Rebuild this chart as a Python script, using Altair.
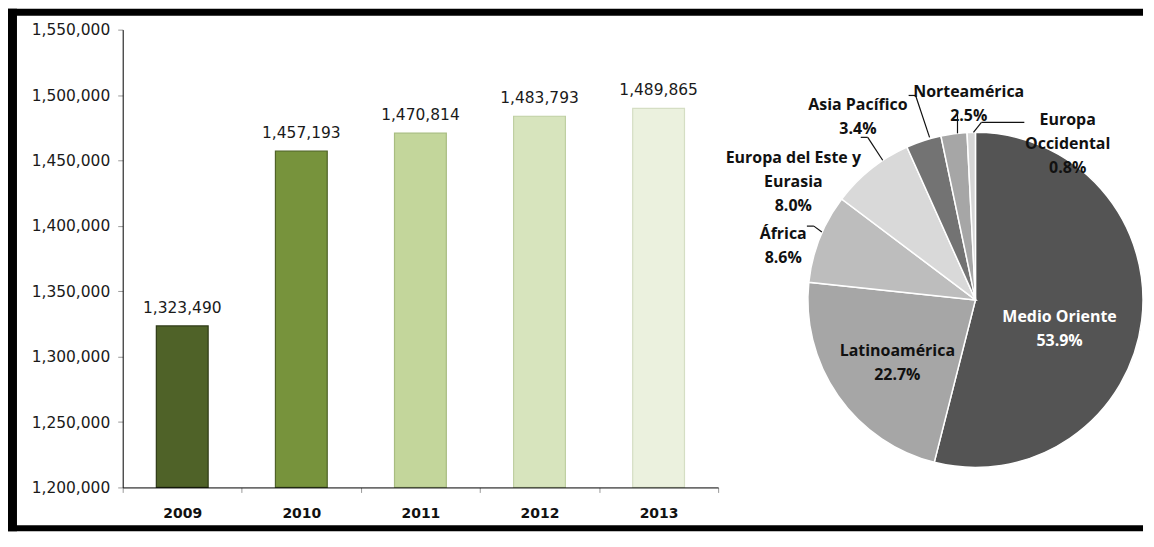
import altair as alt
import pandas as pd

# ---------------- data ----------------
years = ["2009", "2010", "2011", "2012", "2013"]
production = [1323490, 1457193, 1470814, 1483793, 1489865]
y_ticks = [1200000, 1250000, 1300000, 1350000, 1400000, 1450000, 1500000, 1550000]

regions = ["Medio Oriente", "Latinoamérica", "África", "Europa del Este y Eurasia",
           "Asia Pacífico", "Norteamérica", "Europa Occidental"]
region_lines = [["Medio Oriente"], ["Latinoamérica"], ["África"], ["Europa del Este y", "Eurasia"],
                ["Asia Pacífico"], ["Norteamérica"], ["Europa", "Occidental"]]
shares = [53.9, 22.7, 8.6, 8.0, 3.4, 2.5, 0.8]

# ---------------- styles ----------------
bar_colors = ["#4f6228", "#77933c", "#c3d69b", "#d7e4bd", "#ebf1de"]
bar_strokes = ["#2e3a16", "#4f6228", "#a8bd80", "#bfcfa2", "#d5dec4"]
slice_colors = ["#545454", "#a6a6a6", "#bdbdbd", "#d9d9d9", "#737373", "#a6a6a6", "#d6d6d6"]
FONT = "DejaVu Sans"
PIE_FONT = "Open Sans"

bar_df = pd.DataFrame({
    "year": years,
    "value": production,
    "label": [f"{v:,}" for v in production],
})

total = sum(shares)
mids = []
acc = 0.0
for s in shares:
    mids.append(acc + s / 2)
    acc += s
pie_df = pd.DataFrame({
    "region": regions,
    "share": shares,
    "order": list(range(len(regions))),
    "mid": mids,
    "label": ["\n".join(lines + [f"{s:.1f}%"]) for lines, s in zip(region_lines, shares)],
})

# ---------------- bar panel ----------------
BW, BH = 597, 459
x_enc = alt.X("year:N", sort=years,
              scale=alt.Scale(paddingInner=0, paddingOuter=0),
              axis=alt.Axis(title=None, labelAngle=0, tickBand="extent", tickSize=5,
                            tickColor="#999999", domainColor="#000000", domainWidth=1,
                            labelFont=FONT, labelFontSize=14, labelFontWeight="bold",
                            labelColor="#111111", labelPadding=14, zindex=1))
y_enc = alt.Y("value:Q",
              scale=alt.Scale(domain=[1200000, 1550000], zero=False, nice=False, clamp=True),
              axis=alt.Axis(title=None, values=y_ticks, labelExpr="format(datum.value, ',')",
                            grid=False, tickSize=5,
                            tickColor="#999999", domainColor="#000000", domainWidth=1,
                            labelFont=FONT, labelFontSize=15.5, labelColor="#1a1a1a",
                            labelPadding=8, zindex=1))

base = alt.Chart(bar_df)
bars = base.mark_bar(width=alt.RelativeBandSize(0.435), strokeWidth=1.2).encode(
    x=x_enc, y=y_enc, y2=alt.datum(1200000),
    color=alt.Color("year:N", scale=alt.Scale(domain=years, range=bar_colors), legend=None),
    stroke=alt.Stroke("year:N", scale=alt.Scale(domain=years, range=bar_strokes), legend=None),
)
bar_text = base.mark_text(baseline="middle", dy=-18, font=FONT, fontSize=15.5,
                          color="#1a1a1a").encode(x=x_enc, y=y_enc, text="label:N")

one = pd.DataFrame({"k": [0]})
def band(x1, x2, y1, y2, color="#000000"):
    return alt.Chart(one).mark_rect(color=color).encode(
        x=alt.value(x1), x2=alt.value(x2), y=alt.value(y1), y2=alt.value(y2))

frame = [
    band(-115, 1023, -21, -14),
    band(-115, -106, -21, 503),
    band(-115, 1023, 497, 503),
]

bar_panel = alt.layer(bars, bar_text, *frame).properties(width=BW, height=BH)

# ---------------- pie panel ----------------
PW, PH = 330, 459
CX, CY, R = 165, 271, 168
theta_scale = alt.Scale(domain=[0, total])

arcs = alt.Chart(pie_df).mark_arc(outerRadius=R, stroke="#ffffff", strokeWidth=1.5).encode(
    theta=alt.Theta("share:Q", stack=True, scale=theta_scale),
    order=alt.Order("order:Q"),
    color=alt.Color("region:N", scale=alt.Scale(domain=regions, range=slice_colors), legend=None),
    x=alt.value(CX), y=alt.value(CY),
)

# label layout: region -> (radius, dx, dy, color)
label_layout = {
    "Medio Oriente": (85, 0, 7, "#ffffff"),
    "Latinoamérica": (93, -2, -2, "#111111"),
    "África": (204, -3, 9, "#111111"),
    "Europa del Este y Eurasia": (232, -38, 39, "#111111"),
    "Asia Pacífico": (229, -47, 22, "#111111"),
    "Norteamérica": (208, 20, -2, "#111111"),
    "Europa Occidental": (180, 97, 0, "#111111"),
}
label_layers = []
for reg, (rad, ddx, ddy, col) in label_layout.items():
    label_layers.append(
        alt.Chart(pie_df).transform_filter(alt.datum.region == reg).mark_text(
            radius=rad, dx=ddx, dy=ddy, align="center", baseline="middle",
            lineBreak="\n", lineHeight=24, font=PIE_FONT, fontSize=16,
            fontWeight="bold", color=col,
        ).encode(
            theta=alt.Theta("mid:Q", stack=False, scale=theta_scale),
            text="label:N",
            x=alt.value(CX), y=alt.value(CY),
        )
    )

leader_df = pd.DataFrame({
    "x":  [-4, 3, 50, 57, 98, 105, 147, 214, 171],
    "y":  [197, 197, 108, 108, 66, 66, 84, 93, 93],
    "x2": [3, 11, 57, 72, 105, 119, 147, 171, 163],
    "y2": [197, 203, 108, 131, 66, 108, 104, 93, 103],
})
leaders = alt.Chart(leader_df).mark_rule(color="#111111", strokeWidth=1.2).encode(
    x=alt.X("x:Q", scale=None, axis=None), x2="x2:Q",
    y=alt.Y("y:Q", scale=None, axis=None), y2="y2:Q",
)

pie_panel = alt.layer(arcs, leaders, *label_layers).properties(width=PW, height=PH)

chart = alt.hconcat(bar_panel, pie_panel, spacing=93, bounds="flush").resolve_scale(
    color="independent", x="independent", y="independent", theta="independent"
).properties(
    padding=0, background="#ffffff"
).configure_view(strokeWidth=0)

chart.save("out.html", embed_options={"renderer": "svg", "actions": False})
